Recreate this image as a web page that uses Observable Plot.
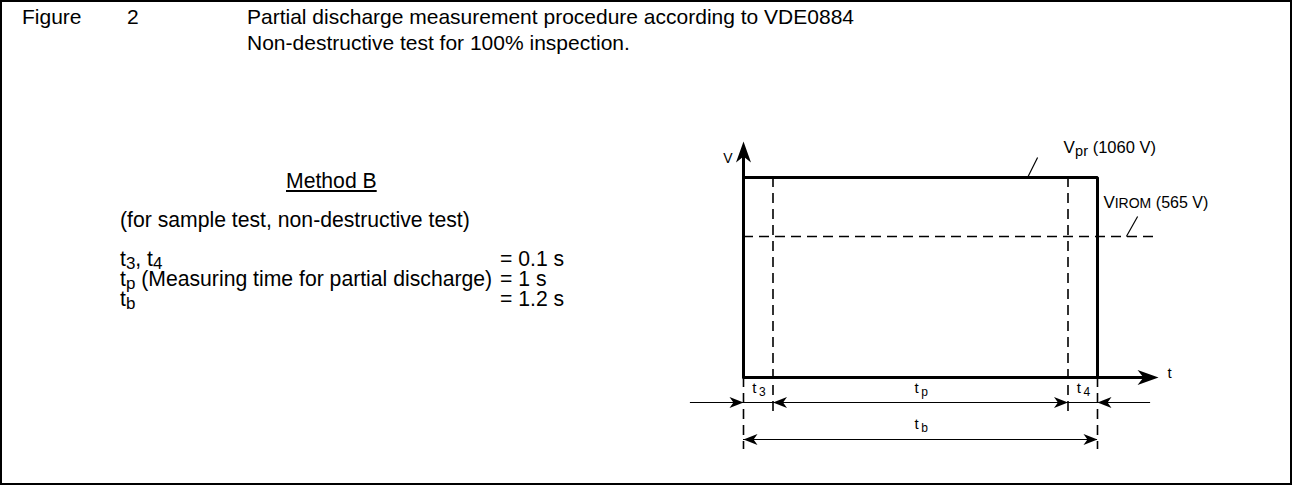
<!DOCTYPE html>
<html>
<head>
<meta charset="utf-8">
<script src="https://cdn.jsdelivr.net/npm/d3@7"></script>
<script src="https://cdn.jsdelivr.net/npm/@observablehq/plot@0.6"></script>
<style>
  html, body { margin: 0; padding: 0; background: #fff; }
  #wrap { position: relative; width: 1293px; height: 485px; font-family: "Liberation Sans", Arial, sans-serif; color: #000; }
  #frame { position: absolute; left: 0; top: 0; width: 1292px; height: 485px; border: 2px solid #000; box-sizing: border-box; }
  .t { position: absolute; white-space: pre; line-height: 1; }
  .title { font-size: 21px; }
  .body { font-size: 21.2px; }
  .param { font-size: 21.2px; line-height: 19px; }
  sub { font-size: 0.8em; vertical-align: -0.2em; line-height: 0; }
  #chart { position: absolute; left: 0; top: 0; }
</style>
</head>
<body>
<div id="wrap">
  <div id="frame"></div>
  <div id="chart"></div>
</div>
<script>
// ---------- text content ----------
const figureLabel = "Figure";
const figureNumber = "2";
const titleLines = ["Partial discharge measurement procedure according to VDE0884", "Non-destructive test for 100% inspection."];
const methodName = "Method B";
const methodNote = "(for sample test, non-destructive test)";
const paramSymbols = [["t", "3", ", t", "4", ""], ["t", "p", " (Measuring time for partial discharge)"], ["t", "b", ""]];
const paramValues = ["= 0.1 s", "= 1 s", "= 1.2 s"];

// ---------- diagram data ----------
const pulseTime = [0, 0, 1.2, 1.2];           // s
const pulseVolt = [0, 1060, 1060, 0];         // V
const levelNames = ["pr", "IROM"];
const levelVolts = [1060, 565];
const levelValueText = [" (1060 V)", " (565 V)"];
const phaseNames = ["3", "p", "4"];
const phaseStart = [0, 0.1, 1.1];
const phaseEnd = [0.1, 1.1, 1.2];
const totalName = "b";
const totalTime = 1.2;

// annotation placement (data units: s, V)
const tAxisEnd = 1.407, vAxisEnd = 1428, vAxisLineEnd = 1300;
const dimLeftT = -0.18, dimRightT = 1.38, iromDashEndT = 1.39;
const vprLeader = [0.963, 0.997, 1258], iromLeader = [1.298, 1.336, 718];
const vprLabelPos = [1.085, 1310], iromLabelPos = [1.22, 791], vLabelV = 1248;

// ---------- HTML text ----------
const wrap = document.getElementById("wrap");
function addText(html, cls, left, top, extra = "") {
  const d = document.createElement("div");
  d.className = "t " + cls;
  d.style.left = left + "px";
  d.style.top = top + "px";
  if (extra) d.style.cssText += extra;
  d.innerHTML = html;
  wrap.appendChild(d);
  return d;
}
addText(figureLabel, "title", 22, 6);
addText(figureNumber, "title", 127, 6);
addText(titleLines[0], "title", 247, 6);
addText(titleLines[1], "title", 247, 32);
addText(methodName, "body", 286, 170, "text-decoration: underline;");
addText(methodNote, "body", 120, 209);
const paramTop = [249, 269, 289];
paramSymbols.forEach((p, i) => {
  let h;
  if (p.length === 5) h = `${p[0]}<sub>${p[1]}</sub>${p[2]}<sub>${p[3]}</sub>${p[4]}`;
  else h = `${p[0]}<sub>${p[1]}</sub>${p[2]}`;
  addText(h, "param", 120, paramTop[i]);
  addText(paramValues[i], "param", 500, paramTop[i]);
});

// ---------- arrowhead symbols ----------
function arrowHead(angleDeg, L, W) {
  const a = angleDeg * Math.PI / 180, c = Math.cos(a), s = Math.sin(a);
  const pts = [[0, 0], [-L, -W / 2], [-0.72 * L, 0], [-L, W / 2]]
    .map(([x, y]) => [x * c - y * s, x * s + y * c]);
  return {
    draw(ctx) {
      ctx.moveTo(pts[0][0], pts[0][1]);
      for (let i = 1; i < pts.length; i++) ctx.lineTo(pts[i][0], pts[i][1]);
      ctx.closePath();
    }
  };
}
const bigRight = arrowHead(0, 21, 15), bigUp = arrowHead(-90, 21, 15);
const smRight = arrowHead(0, 14, 11), smLeft = arrowHead(180, 14, 11);

const pulse = pulseTime.map((t, i) => ({t, v: pulseVolt[i]}));
const phases = phaseNames.map((n, i) => ({n, m: (phaseStart[i] + phaseEnd[i]) / 2}));
const innerBounds = [phaseStart[1], phaseEnd[1]];
const outerBounds = [0, totalTime];
const dimHeads = [
  {t: phaseStart[0], s: smRight}, {t: phaseStart[1], s: smLeft},
  {t: phaseEnd[1], s: smRight}, {t: phaseEnd[2], s: smLeft}
];
const totHeads = [{t: 0, s: smLeft}, {t: totalTime, s: smRight}];

// offsets (px) of the dimension rows below the time axis
const dimRowDy = 25, totalRowDy = 62, innerDashDy = 36, outerDashDy = 72;

const font = "Liberation Sans, Arial, sans-serif";
const dash = {stroke: "black", strokeWidth: 1.6, strokeDasharray: "10,6"};

const chart = Plot.plot({
  width: 1293,
  height: 485,
  style: {fontFamily: font, background: "transparent", overflow: "visible"},
  x: {domain: [0, 1.2], range: [743, 1097], axis: null},
  y: {type: "pow", exponent: 0.556, domain: [0, 1060], range: [377, 177], axis: null},
  marks: [
    // VIROM dashed level
    Plot.ruleY([levelVolts[1]], {y: d => d, x1: 0, x2: iromDashEndT, ...dash}),
    // inner dashed boundaries (t3 / t4), reaching below the axis
    Plot.ruleX(innerBounds, {x: d => d, y1: levelVolts[0], y2: 0, insetBottom: -innerDashDy, ...dash}),
    // outer dashed boundaries below the axis
    Plot.ruleX(outerBounds, {x: d => d, y1: 0, y2: 0, insetBottom: -outerDashDy, ...dash}),
    // dimension lines
    Plot.ruleY([0], {x1: dimLeftT, x2: dimRightT, dy: dimRowDy, stroke: "black", strokeWidth: 1.2}),
    Plot.ruleY([0], {x1: 0, x2: totalTime, dy: totalRowDy, stroke: "black", strokeWidth: 1.2}),
    Plot.dot(dimHeads, {x: "t", y: () => 0, dy: dimRowDy, symbol: d => d.s, fill: "black", stroke: "none"}),
    Plot.dot(totHeads, {x: "t", y: () => 0, dy: totalRowDy, symbol: d => d.s, fill: "black", stroke: "none"}),
    // axes
    Plot.link([0], {x1: 0, y1: 0, x2: tAxisEnd - 0.03, y2: 0, stroke: "black", strokeWidth: 3}),
    Plot.link([0], {x1: 0, y1: 0, x2: 0, y2: vAxisLineEnd, stroke: "black", strokeWidth: 3}),
    Plot.dot([0], {x: tAxisEnd, y: 0, symbol: bigRight, fill: "black", stroke: "none"}),
    Plot.dot([0], {x: 0, y: vAxisEnd, symbol: bigUp, fill: "black", stroke: "none"}),
    // pulse
    Plot.line(pulse, {x: "t", y: "v", stroke: "black", strokeWidth: 3, strokeLinejoin: "miter"}),
    // leader lines
    Plot.link([levelVolts[0]], {x1: vprLeader[0], y1: d => d, x2: vprLeader[1], y2: vprLeader[2], stroke: "black", strokeWidth: 1.2}),
    Plot.link([levelVolts[1]], {x1: iromLeader[0], y1: d => d, x2: iromLeader[1], y2: iromLeader[2], stroke: "black", strokeWidth: 1.2}),
    // axis labels
    Plot.text(["V"], {x: 0, y: vLabelV, text: d => d, dx: -11, textAnchor: "end", fontSize: 14}),
    Plot.text(["t"], {x: tAxisEnd, y: 0, text: d => d, dx: 9, dy: -4, textAnchor: "start", fontSize: 15}),
    // level labels
    Plot.text(["V"], {x: vprLabelPos[0], y: vprLabelPos[1], text: d => d, textAnchor: "start", fontSize: 17, lineAnchor: "bottom"}),
    Plot.text([levelNames[0]], {x: vprLabelPos[0], y: vprLabelPos[1], text: d => d, dx: 11.5, dy: 3, textAnchor: "start", fontSize: 14.5, lineAnchor: "bottom"}),
    Plot.text([levelValueText[0]], {x: vprLabelPos[0], y: vprLabelPos[1], text: d => d, dx: 24.5, textAnchor: "start", fontSize: 16.5, lineAnchor: "bottom"}),
    Plot.text(["V"], {x: iromLabelPos[0], y: iromLabelPos[1], text: d => d, textAnchor: "start", fontSize: 17, lineAnchor: "bottom"}),
    Plot.text([levelNames[1]], {x: iromLabelPos[0], y: iromLabelPos[1], text: d => d, dx: 11.3, textAnchor: "start", fontSize: 14, lineAnchor: "bottom"}),
    Plot.text([levelValueText[1]], {x: iromLabelPos[0], y: iromLabelPos[1], text: d => d, dx: 48, textAnchor: "start", fontSize: 16, lineAnchor: "bottom"}),
    // phase labels
    Plot.text(phases, {x: "m", y: () => 0, text: () => "t", dx: -4, dy: dimRowDy - 14, fontSize: 15, textAnchor: "middle"}),
    Plot.text(phases, {x: "m", y: () => 0, text: "n", dx: 4, dy: dimRowDy - 10, fontSize: 12, textAnchor: "middle"}),
    Plot.text([totalName], {x: totalTime / 2, y: 0, text: () => "t", dx: -4, dy: totalRowDy - 15, fontSize: 15, textAnchor: "middle"}),
    Plot.text([totalName], {x: totalTime / 2, y: 0, text: d => d, dx: 4, dy: totalRowDy - 11, fontSize: 12, textAnchor: "middle"})
  ]
});
document.getElementById("chart").appendChild(chart);
</script>
</body>
</html>
